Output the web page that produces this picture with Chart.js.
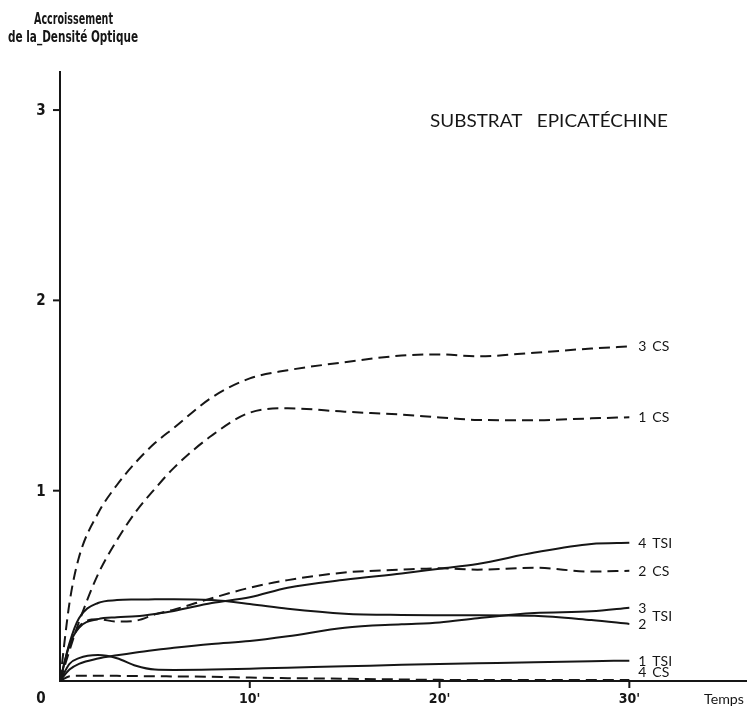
<!DOCTYPE html>
<html>
<head>
<meta charset="utf-8">
<script src="https://cdn.jsdelivr.net/npm/chart.js@4/dist/chart.umd.min.js"></script>
<style>
body { margin: 0; background: #fff; }
canvas { display: block; }
</style>
</head>
<body>
<canvas id="chartCanvas" width="747" height="709"></canvas>
<script>
// ------------------------------------------------------------
// Accroissement de la densité optique, substrat épicatéchine
// ------------------------------------------------------------

// Temps en minutes (commun à toutes les courbes)
var times = [0, 0.5, 1, 2, 3, 4, 5, 6, 8, 10, 12, 15, 18, 20, 22, 25, 28, 30]

// Valeurs
var cs3  = [0, 0.41, 0.65, 0.88, 1.03, 1.15, 1.25, 1.33, 1.49, 1.59, 1.633, 1.675, 1.71, 1.716, 1.706, 1.725, 1.747, 1.758]
var cs1  = [0, 0.16, 0.31, 0.56, 0.74, 0.89, 1.01, 1.12, 1.29, 1.41, 1.433, 1.415, 1.40, 1.385, 1.372, 1.37, 1.38, 1.386]
var tsi4 = [0, 0.19, 0.28, 0.325, 0.335, 0.34, 0.352, 0.368, 0.41, 0.44, 0.49, 0.532, 0.565, 0.59, 0.615, 0.675, 0.72, 0.726]
var cs2  = [0, 0.18, 0.285, 0.325, 0.312, 0.317, 0.35, 0.375, 0.435, 0.49, 0.53, 0.57, 0.585, 0.592, 0.585, 0.595, 0.575, 0.579]
var tsi3 = [0, 0.06, 0.09, 0.118, 0.135, 0.15, 0.163, 0.175, 0.195, 0.21, 0.235, 0.28, 0.298, 0.308, 0.33, 0.357, 0.366, 0.385]
var tsi2 = [0, 0.2, 0.33, 0.41, 0.425, 0.428, 0.429, 0.43, 0.425, 0.405, 0.38, 0.354, 0.347, 0.346, 0.346, 0.343, 0.32, 0.30]
var tsi1 = [0, 0.09, 0.12, 0.136, 0.12, 0.08, 0.06, 0.058, 0.06, 0.065, 0.07, 0.077, 0.085, 0.089, 0.093, 0.099, 0.104, 0.107]
var cs4  = [0, 0.025, 0.028, 0.028, 0.027, 0.026, 0.025, 0.024, 0.022, 0.018, 0.015, 0.012, 0.008, 0.006, 0.005, 0.005, 0.005, 0.005]

var seriesNames  = ['3 CS', '1 CS', '4 TSI', '2 CS', '3 TSI', '2 TSI', '1 TSI', '4 CS']
var seriesValues = [cs3, cs1, tsi4, cs2, tsi3, tsi2, tsi1, cs4]

// Axes
var yTicks = [1, 2, 3]
var xTicks = [10, 20, 30]
var xTickLabels = ["10'", "20'", "30'"]

var yTitle1 = 'Accroissement'
var yTitle2 = 'de la_Densité Optique'
var xTitle = 'Temps'
var mainTitle = 'SUBSTRAT   EPICATÉCHINE'

var ink = '#161616'
var narrowFont = '"Liberation Sans Narrow", "DejaVu Sans Condensed", "Roboto", sans-serif'
var labelFont = 'Lato, "Open Sans", sans-serif'

// tegner tekst skaleret til en given bredde
function fitText(ctx, text, left, baseline, width, font) {
    ctx.font = font
    var w = ctx.measureText(text).width
    ctx.save()
    ctx.translate(left, baseline)
    ctx.scale(width / w, 1)
    ctx.textAlign = 'left'
    ctx.fillText(text, 0, 0)
    ctx.restore()
}

var textPlugin = {
    id: 'texts',
    afterDraw: function (chart) {
        var ctx = chart.ctx
        var xs = chart.scales.x
        var ys = chart.scales.y
        ctx.save()
        ctx.fillStyle = ink
        ctx.strokeStyle = ink
        ctx.lineWidth = 2
        ctx.textBaseline = 'alphabetic'

        // y ticks + labels
        yTicks.forEach(function (v) {
            var py = ys.getPixelForValue(v)
            ctx.beginPath()
            ctx.moveTo(xs.left - 7, py)
            ctx.lineTo(xs.left, py)
            ctx.stroke()
            ctx.font = 'bold 15px ' + narrowFont
            ctx.textAlign = 'center'
            ctx.fillText(String(v), 41, py + 5)
        })

        // x ticks + labels
        var base = ys.getPixelForValue(0)
        xTicks.forEach(function (v, i) {
            var px = xs.getPixelForValue(v)
            ctx.beginPath()
            ctx.moveTo(px, base)
            ctx.lineTo(px, base + 7)
            ctx.stroke()
            ctx.font = 'bold 14px ' + narrowFont
            ctx.textAlign = 'center'
            ctx.fillText(xTickLabels[i], px, 703)
        })
        ctx.font = 'bold 15px ' + narrowFont
        ctx.textAlign = 'center'
        ctx.fillText('0', 41, 703)

        // titler
        fitText(ctx, yTitle1, 34, 24, 79, 'bold 16px ' + narrowFont)
        fitText(ctx, yTitle2, 8, 42, 130, 'bold 16px ' + narrowFont)
        fitText(ctx, xTitle, 704, 704, 40, '14px ' + labelFont)
        fitText(ctx, mainTitle, 430, 127, 238, '18px ' + labelFont)

        // navne ved kurvernes ende
        var endX = xs.getPixelForValue(times[times.length - 1]) + 9
        ctx.font = '14px ' + labelFont
        ctx.textAlign = 'left'
        var tsiY = []
        seriesNames.forEach(function (name, i) {
            var vals = seriesValues[i]
            var py = ys.getPixelForValue(vals[vals.length - 1])
            if (name == '4 CS') py -= 8
            if (name == '3 TSI' || name == '2 TSI') {
                ctx.fillText(name.split(' ')[0], endX, py + 5)
                tsiY.push(py)
            } else {
                var parts = name.split(' ')
                ctx.fillText(parts[0], endX, py + 5)
                ctx.fillText(parts[1], endX + 14, py + 5)
            }
        })
        if (tsiY.length == 2) {
            ctx.fillText('TSI', endX + 14, (tsiY[0] + tsiY[1]) / 2 + 5)
        }
        ctx.restore()
    }
}

var datasets = seriesNames.map(function (name, i) {
    var dashed = name.indexOf('CS') >= 0
    return {
        label: name,
        data: times.map(function (t, j) { return { x: t, y: seriesValues[i][j] } }),
        borderColor: ink,
        borderWidth: 2,
        borderDash: dashed ? [11, 6] : [],
        pointRadius: 0,
        fill: false,
        cubicInterpolationMode: 'monotone'
    }
})

var myChart = new Chart(document.getElementById('chartCanvas'), {
    type: 'line',
    data: { datasets: datasets },
    options: {
        responsive: false,
        animation: false,
        layout: { padding: { left: 60, top: 72, right: 0, bottom: 28 } },
        plugins: { legend: { display: false }, tooltip: { enabled: false } },
        scales: {
            x: {
                type: 'linear', min: 0, max: 36.2,
                ticks: { display: false },
                grid: { display: false, drawTicks: false },
                border: { display: true, color: ink, width: 2 }
            },
            y: {
                min: 0, max: 3.2,
                ticks: { display: false },
                grid: { display: false, drawTicks: false },
                border: { display: true, color: ink, width: 2 }
            }
        }
    },
    plugins: [textPlugin]
})
</script>
</body>
</html>
